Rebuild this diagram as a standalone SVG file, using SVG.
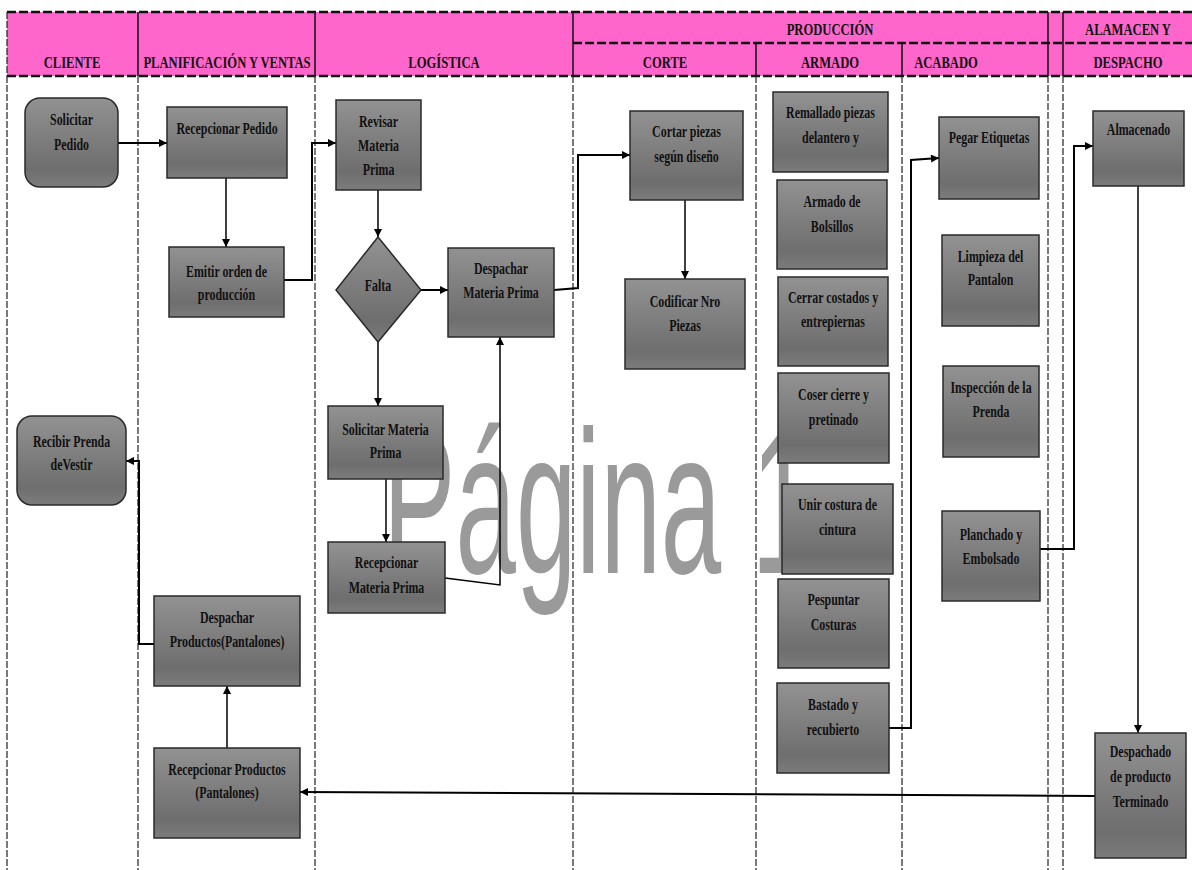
<svg xmlns="http://www.w3.org/2000/svg" width="1192" height="870" viewBox="0 0 1192 870">
<defs>
<linearGradient id="g" x1="0" y1="0" x2="0" y2="1">
<stop offset="0" stop-color="#929292"/>
<stop offset="0.8" stop-color="#6e6e6e"/>
<stop offset="1" stop-color="#7c7c7c"/>
</linearGradient>
<marker id="ah" viewBox="0 0 10 10" refX="10" refY="5" markerWidth="9" markerHeight="8" markerUnits="userSpaceOnUse" orient="auto">
<path d="M0 0L10 5L0 10z" fill="#000"/>
</marker>
<style>
.n{fill:url(#g);stroke:#2a2a2a;stroke-width:1.5}
.t{font-family:"Liberation Serif","Times New Roman",serif;font-weight:bold;font-size:17px;fill:#111;text-anchor:middle}
.h{font-family:"Liberation Serif","Times New Roman",serif;font-weight:bold;font-size:17.5px;fill:#111;text-anchor:middle}
.lane{stroke:#222;stroke-width:1.2;stroke-dasharray:7 2;fill:none}
.hb{stroke:#111;stroke-width:2.5;stroke-dasharray:9 3;fill:none}
.hv{stroke:#111;stroke-width:1.5;fill:none}
.c{fill:none;stroke:#000;stroke-width:2}
.c1{fill:none;stroke:#000;stroke-width:1.5}
</style>
</defs>
<rect width="1192" height="870" fill="#fff"/>
<!-- watermark -->
<text transform="translate(383 573) scale(0.53 1)" font-family="Liberation Sans, Arial, sans-serif" font-size="205" fill="#9a9a9a">Página 1</text>
<!-- header -->
<g id="header">
<rect x="7" y="12" width="1185" height="64" fill="#ff66cc"/>
<line class="hb" x1="7" y1="12" x2="1192" y2="12"/>
<line class="hb" x1="573" y1="43" x2="1192" y2="43"/>
<line class="hb" x1="7" y1="76" x2="1192" y2="76"/>
<line class="lane" x1="7" y1="12" x2="7" y2="76"/>
<line class="hv" x1="138" y1="12" x2="138" y2="76"/>
<line class="hv" x1="315" y1="12" x2="315" y2="76"/>
<line class="hv" x1="573" y1="12" x2="573" y2="76"/>
<line class="hv" x1="1048" y1="12" x2="1048" y2="76"/>
<line class="hv" x1="1063" y1="12" x2="1063" y2="76"/>
<line class="hv" x1="756" y1="43" x2="756" y2="76"/>
<line class="hv" x1="902" y1="43" x2="902" y2="76"/>
<text class="h" transform="translate(72 68) scale(0.72 1)">CLIENTE</text>
<text class="h" transform="translate(227 68) scale(0.72 1)">PLANIFICACIÓN Y VENTAS</text>
<text class="h" transform="translate(444 68) scale(0.72 1)">LOGÍSTICA</text>
<text class="h" transform="translate(830 35) scale(0.72 1)">PRODUCCIÓN</text>
<text class="h" transform="translate(665 68) scale(0.72 1)">CORTE</text>
<text class="h" transform="translate(830 68) scale(0.72 1)">ARMADO</text>
<text class="h" transform="translate(946 68) scale(0.72 1)">ACABADO</text>
<text class="h" transform="translate(1128 35) scale(0.72 1)">ALAMACEN Y</text>
<text class="h" transform="translate(1128 68) scale(0.72 1)">DESPACHO</text>
</g>
<!-- lanes -->
<g id="lanes">
<line class="lane" x1="7" y1="76" x2="7" y2="870"/>
<line class="lane" x1="138" y1="76" x2="138" y2="870"/>
<line class="lane" x1="315" y1="76" x2="315" y2="870"/>
<line class="lane" x1="573" y1="76" x2="573" y2="870"/>
<line class="lane" x1="756" y1="76" x2="756" y2="870"/>
<line class="lane" x1="902" y1="76" x2="902" y2="870"/>
<line class="lane" x1="1048" y1="76" x2="1048" y2="870"/>
<line class="lane" x1="1063" y1="76" x2="1063" y2="870"/>
</g>
<!-- connectors -->
<g id="connectors">
<path class="c" d="M118 143H167" marker-end="url(#ah)"/>
<path class="c1" d="M226 178V247" marker-end="url(#ah)"/>
<path class="c" d="M284 280H312V143H336" marker-end="url(#ah)"/>
<path class="c1" d="M378 190V237" marker-end="url(#ah)"/>
<path class="c" d="M421 290H448" marker-end="url(#ah)"/>
<path class="c1" d="M378 342V406" marker-end="url(#ah)"/>
<path class="c1" d="M386 479V542" marker-end="url(#ah)"/>
<path class="c1" d="M445 578L500 585V337" marker-end="url(#ah)"/>
<path class="c" d="M554 290L578 288V155H630" marker-end="url(#ah)"/>
<path class="c1" d="M685 200V279" marker-end="url(#ah)"/>
<path class="c" d="M889 728H911V160L939 158" marker-end="url(#ah)"/>
<path class="c" d="M1040 549H1074V146H1093" marker-end="url(#ah)"/>
<path class="c1" d="M1138 186V733" marker-end="url(#ah)"/>
<path class="c" d="M1095 796L300 792" marker-end="url(#ah)"/>
<path class="c1" d="M227 748V686" marker-end="url(#ah)"/>
<path class="c" d="M154 644H139V461H126" marker-end="url(#ah)"/>
</g>
<!-- nodes -->
<g id="solicitar-pedido"><rect class="n" x="25" y="98" width="93" height="89" rx="15"/><text class="t" transform="translate(71.5 125) scale(0.7 1)">Solicitar</text><text class="t" transform="translate(71.5 150) scale(0.7 1)">Pedido</text></g>
<g id="recibir-prenda"><rect class="n" x="17" y="416" width="109" height="89" rx="15"/><text class="t" transform="translate(71.5 447) scale(0.7 1)">Recibir Prenda</text><text class="t" transform="translate(71.5 470) scale(0.7 1)">deVestir</text></g>
<g id="recepcionar-pedido"><rect class="n" x="167" y="107" width="120" height="71"/><text class="t" transform="translate(227 134) scale(0.7 1)">Recepcionar Pedido</text></g>
<g id="emitir-orden"><rect class="n" x="169" y="247" width="115" height="70"/><text class="t" transform="translate(226.5 277) scale(0.7 1)">Emitir orden de</text><text class="t" transform="translate(226.5 300) scale(0.7 1)">producción</text></g>
<g id="despachar-productos"><rect class="n" x="154" y="596" width="146" height="90"/><text class="t" transform="translate(227 623) scale(0.7 1)">Despachar</text><text class="t" transform="translate(227 647) scale(0.7 1)">Productos(Pantalones)</text></g>
<g id="recepcionar-productos"><rect class="n" x="154" y="748" width="146" height="90"/><text class="t" transform="translate(227 775) scale(0.7 1)">Recepcionar Productos</text><text class="t" transform="translate(227 798) scale(0.7 1)">(Pantalones)</text></g>
<g id="revisar-mp"><rect class="n" x="336" y="100" width="85" height="90"/><text class="t" transform="translate(378.5 127) scale(0.7 1)">Revisar</text><text class="t" transform="translate(378.5 151) scale(0.7 1)">Materia</text><text class="t" transform="translate(378.5 175) scale(0.7 1)">Prima</text></g>
<g id="falta"><polygon class="n" points="378,237 421,290 378,342 336,290"/><text class="t" transform="translate(378 291) scale(0.7 1)">Falta</text></g>
<g id="despachar-mp"><rect class="n" x="448" y="248" width="106" height="89"/><text class="t" transform="translate(501 274) scale(0.7 1)">Despachar</text><text class="t" transform="translate(501 298) scale(0.7 1)">Materia Prima</text></g>
<g id="solicitar-mp"><rect class="n" x="328" y="406" width="115" height="73"/><text class="t" transform="translate(385.5 435) scale(0.7 1)">Solicitar Materia</text><text class="t" transform="translate(385.5 458) scale(0.7 1)">Prima</text></g>
<g id="recepcionar-mp"><rect class="n" x="328" y="542" width="117" height="71"/><text class="t" transform="translate(386.5 568) scale(0.7 1)">Recepcionar</text><text class="t" transform="translate(386.5 593) scale(0.7 1)">Materia Prima</text></g>
<g id="cortar-piezas"><rect class="n" x="630" y="111" width="113" height="89"/><text class="t" transform="translate(686.5 137) scale(0.7 1)">Cortar piezas</text><text class="t" transform="translate(686.5 162) scale(0.7 1)">según diseño</text></g>
<g id="codificar"><rect class="n" x="625" y="279" width="120" height="90"/><text class="t" transform="translate(685 307) scale(0.7 1)">Codificar Nro</text><text class="t" transform="translate(685 331) scale(0.7 1)">Piezas</text></g>
<g id="remallado"><rect class="n" x="773" y="92" width="115" height="80"/><text class="t" transform="translate(830.5 118) scale(0.7 1)">Remallado piezas</text><text class="t" transform="translate(830.5 143) scale(0.7 1)">delantero y</text></g>
<g id="armado-bolsillos"><rect class="n" x="777" y="180" width="110" height="89"/><text class="t" transform="translate(832 207) scale(0.7 1)">Armado de</text><text class="t" transform="translate(832 232) scale(0.7 1)">Bolsillos</text></g>
<g id="cerrar-costados"><rect class="n" x="778" y="277" width="110" height="89"/><text class="t" transform="translate(833 303) scale(0.7 1)">Cerrar costados y</text><text class="t" transform="translate(833 327) scale(0.7 1)">entrepiernas</text></g>
<g id="coser-cierre"><rect class="n" x="778" y="373" width="111" height="90"/><text class="t" transform="translate(833.5 400) scale(0.7 1)">Coser cierre y</text><text class="t" transform="translate(833.5 425) scale(0.7 1)">pretinado</text></g>
<g id="unir-costura"><rect class="n" x="782" y="484" width="111" height="90"/><text class="t" transform="translate(837.5 510) scale(0.7 1)">Unir costura de</text><text class="t" transform="translate(837.5 535) scale(0.7 1)">cintura</text></g>
<g id="pespuntar"><rect class="n" x="778" y="579" width="111" height="89"/><text class="t" transform="translate(833.5 605) scale(0.7 1)">Pespuntar</text><text class="t" transform="translate(833.5 630) scale(0.7 1)">Costuras</text></g>
<g id="bastado"><rect class="n" x="777" y="683" width="112" height="90"/><text class="t" transform="translate(833 710) scale(0.7 1)">Bastado y</text><text class="t" transform="translate(833 735) scale(0.7 1)">recubierto</text></g>
<g id="pegar-etiquetas"><rect class="n" x="939" y="117" width="100" height="82"/><text class="t" transform="translate(989 143) scale(0.7 1)">Pegar Etiquetas</text></g>
<g id="limpieza"><rect class="n" x="942" y="235" width="97" height="91"/><text class="t" transform="translate(990.5 262) scale(0.7 1)">Limpieza del</text><text class="t" transform="translate(990.5 285) scale(0.7 1)">Pantalon</text></g>
<g id="inspeccion"><rect class="n" x="943" y="366" width="96" height="91"/><text class="t" transform="translate(991 393) scale(0.7 1)">Inspección de la</text><text class="t" transform="translate(991 417) scale(0.7 1)">Prenda</text></g>
<g id="planchado"><rect class="n" x="942" y="511" width="98" height="90"/><text class="t" transform="translate(991 540) scale(0.7 1)">Planchado y</text><text class="t" transform="translate(991 564) scale(0.7 1)">Embolsado</text></g>
<g id="almacenado"><rect class="n" x="1093" y="111" width="91" height="75"/><text class="t" transform="translate(1138.5 135) scale(0.7 1)">Almacenado</text></g>
<g id="despachado"><rect class="n" x="1095" y="733" width="91" height="125"/><text class="t" transform="translate(1140.5 757) scale(0.7 1)">Despachado</text><text class="t" transform="translate(1140.5 782) scale(0.7 1)">de producto</text><text class="t" transform="translate(1140.5 807) scale(0.7 1)">Terminado</text></g>
</svg>
